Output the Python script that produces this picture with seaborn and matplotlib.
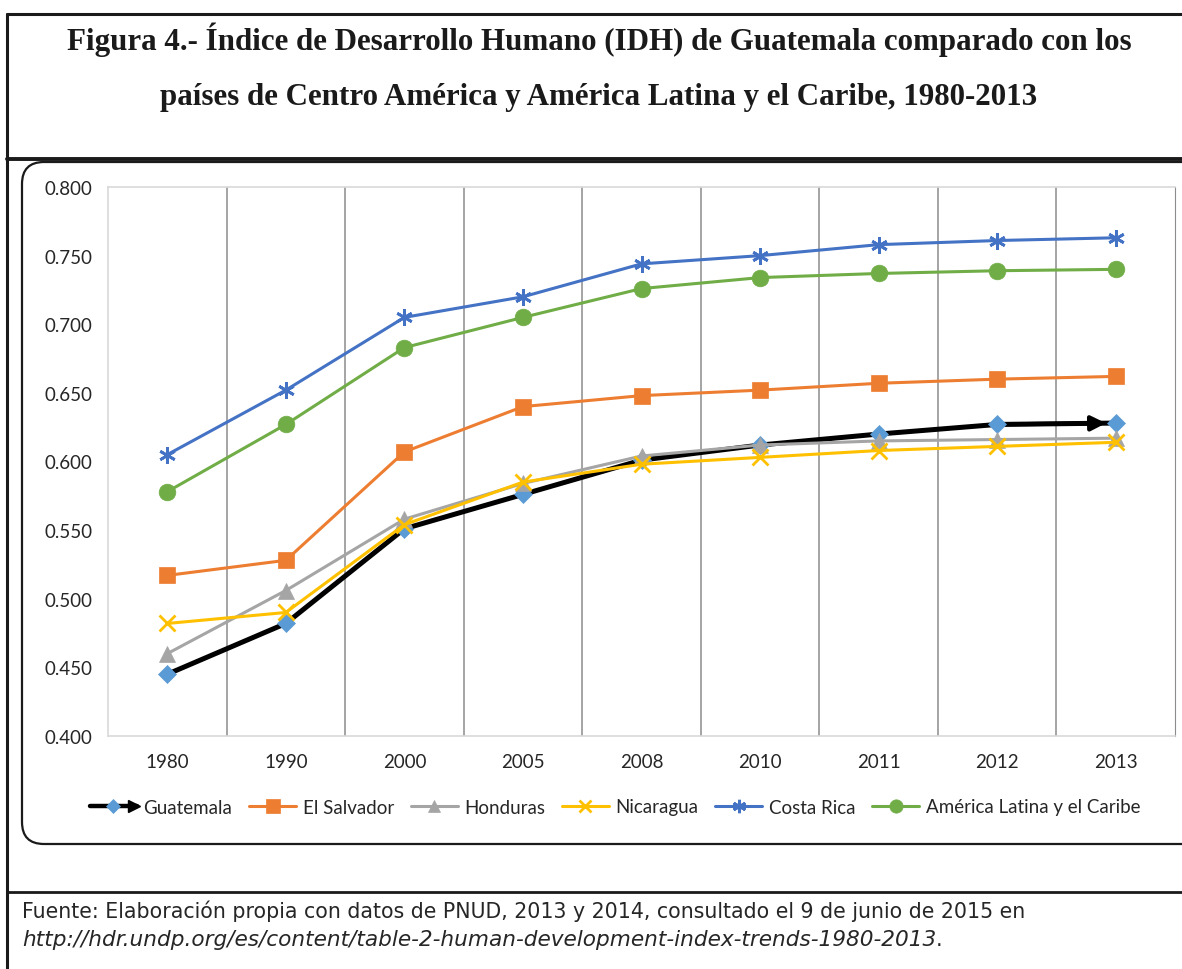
import numpy as np
import pandas as pd
import matplotlib
matplotlib.use('Agg')
import matplotlib.pyplot as plt
import seaborn as sns
from matplotlib.lines import Line2D
from matplotlib.patches import FancyBboxPatch
from matplotlib.transforms import IdentityTransform
from matplotlib.legend_handler import HandlerLine2D

years = ['1980', '1990', '2000', '2005', '2008', '2010', '2011', '2012', '2013']

guatemala = [0.445, 0.482, 0.551, 0.576, 0.601, 0.612, 0.620, 0.627, 0.628]
el_salvador = [0.517, 0.528, 0.607, 0.640, 0.648, 0.652, 0.657, 0.660, 0.662]
honduras = [0.460, 0.506, 0.558, 0.584, 0.604, 0.612, 0.615, 0.616, 0.617]
nicaragua = [0.482, 0.490, 0.554, 0.585, 0.598, 0.603, 0.608, 0.611, 0.614]
costa_rica = [0.605, 0.652, 0.705, 0.720, 0.744, 0.750, 0.758, 0.761, 0.763]
america_latina = [0.578, 0.627, 0.683, 0.705, 0.726, 0.734, 0.737, 0.739, 0.740]

series = {
    'Guatemala': guatemala,
    'El Salvador': el_salvador,
    'Honduras': honduras,
    'Nicaragua': nicaragua,
    'Costa Rica': costa_rica,
    'América Latina y el Caribe': america_latina,
}

# estilo de cada serie: color linea, marcador, color marcador, tamaño, grosor
estilos = {
    'Guatemala': ('black', 'D', '#5B9BD5', 9, 3.6),
    'El Salvador': ('#ED7D31', 's', '#ED7D31', 12, 2.2),
    'Honduras': ('#A5A5A5', '^', '#A5A5A5', 11, 2.2),
    'Nicaragua': ('#FFC000', 'x', '#FFC000', 11, 2.2),
    'Costa Rica': ('#4472C4', (6, 2, 0), '#4472C4', 12, 2.2),
    'América Latina y el Caribe': ('#70AD47', 'o', '#70AD47', 12, 2.2),
}

df = pd.concat([pd.DataFrame({'pais': k, 'pos': range(len(years)), 'idh': v})
                for k, v in series.items()], ignore_index=True)

sns.set_style('white')
plt.rcParams['font.family'] = ['Lato', 'DejaVu Sans']

W, H = 1182, 970
fig = plt.figure(figsize=(W / 100, H / 100), dpi=100)

ax = fig.add_axes([108 / W, 1 - 737 / H, (1175 - 108) / W, (737 - 188) / H])

for nombre in series:
    color, mk, mcol, ms, lw = estilos[nombre]
    sns.lineplot(data=df[df['pais'] == nombre], x='pos', y='idh', ax=ax,
                 color=color, lw=lw, marker=mk, markersize=ms,
                 markerfacecolor=mcol, markeredgecolor=mcol,
                 markeredgewidth=2 if mk in ('x', (6, 2, 0)) else 0.5,
                 label=nombre, zorder=3)

# flecha al final de Guatemala
ax.annotate('', xy=(len(years) - 1, guatemala[-1]), xytext=(len(years) - 2, guatemala[-2]),
            arrowprops=dict(arrowstyle='-|>', color='black', lw=3, mutation_scale=22,
                            shrinkA=0, shrinkB=7), zorder=2.5)

ax.set_xlim(-0.5, len(years) - 0.5)
ax.set_ylim(0.4, 0.8)
ax.set_xticks(range(len(years)))
ax.set_xticklabels(years)
ax.set_xticks(np.arange(0.5, len(years) - 1), minor=True)
ax.set_yticks(np.arange(0.4, 0.801, 0.05))
ax.set_yticklabels(['%.3f' % v for v in np.arange(0.4, 0.801, 0.05)])
ax.grid(False)
ax.grid(axis='x', which='minor', color='#8C8C8C', lw=1.1)
ax.tick_params(axis='both', which='both', length=0, labelsize=13.5, colors='#262626')
ax.tick_params(axis='y', pad=11)
ax.tick_params(axis='x', pad=12)
for lado in ['left', 'top', 'bottom']:
    ax.spines[lado].set_color('#D9D9D9')
    ax.spines[lado].set_linewidth(1.2)
ax.spines['right'].set_color('#8C8C8C')
ax.set_xlabel('')
ax.set_ylabel('')
if ax.get_legend():
    ax.get_legend().remove()


class FlechaHandler(HandlerLine2D):
    def create_artists(self, legend, orig_handle, xdescent, ydescent, width, height, fontsize, trans):
        arts = super().create_artists(legend, orig_handle, xdescent, ydescent, width, height, fontsize, trans)
        cabeza = Line2D([width - xdescent - 2], [height / 2 - ydescent], marker='>', color='black',
                        markersize=9, transform=trans, ls='none')
        return [arts[0], cabeza] + list(arts[1:])


handles = []
for nombre in series:
    color, mk, mcol, ms, lw = estilos[nombre]
    handles.append(Line2D([], [], color=color, lw=lw if nombre != 'Guatemala' else 3.2,
                          marker=mk, markersize=ms * 0.8, markerfacecolor=mcol, markeredgecolor=mcol,
                          markeredgewidth=2 if mk in ('x', (6, 2, 0)) else 0.5))
fig.legend(handles, list(series.keys()), loc='center', bbox_to_anchor=(615 / W, 1 - 808 / H),
           ncol=6, frameon=False, fontsize=13.5, handlelength=2.5, handletextpad=0.35,
           columnspacing=0.9, handler_map={handles[0]: FlechaHandler()})


# marcos
def linea(x0, y0, x1, y1, lw):
    fig.add_artist(Line2D([x0 / W, x1 / W], [1 - y0 / H, 1 - y1 / H], color='#1a1a1a',
                          lw=lw, transform=fig.transFigure))


linea(7, 15, 7, 970, 2.2)
linea(7, 15, 1182, 15, 2.2)
linea(7, 160, 1182, 160, 2.8)
linea(7, 893, 1182, 893, 2)

caja = FancyBboxPatch((22, H - 845), 1200, 845 - 163,
                      boxstyle='round,pad=0,rounding_size=22', transform=IdentityTransform(),
                      fill=False, ec='#1a1a1a', lw=1.6)
fig.add_artist(caja)

titulo = ('Figura 4.- Índice de Desarrollo Humano (IDH) de Guatemala comparado con los',
          'países de Centro América y América Latina y el Caribe, 1980-2013')
fig.text(599 / W, 1 - 40 / H, titulo[0], ha='center', va='center', fontsize=22.3,
         fontweight='bold', family='Liberation Serif', color='#1a1a1a')
fig.text(599 / W, 1 - 97 / H, titulo[1], ha='center', va='center', fontsize=22.3,
         fontweight='bold', family='Liberation Serif', color='#1a1a1a')

fig.text(22 / W, 1 - 911 / H,
         'Fuente: Elaboración propia con datos de PNUD, 2013 y 2014, consultado el 9 de junio de 2015 en',
         ha='left', va='center', fontsize=14.8, family='DejaVu Sans', color='#262626')
url = fig.text(22 / W, 1 - 940 / H,
               'http://hdr.undp.org/es/content/table-2-human-development-index-trends-1980-2013',
               ha='left', va='center', fontsize=15.6, family='DejaVu Sans', style='italic',
               color='#262626')
ax.annotate('.', xy=(1, 0), xycoords=url, ha='left', va='bottom', fontsize=14.8,
            family='DejaVu Sans', color='#262626', annotation_clip=False)

fig.savefig('out.png', dpi=100)
